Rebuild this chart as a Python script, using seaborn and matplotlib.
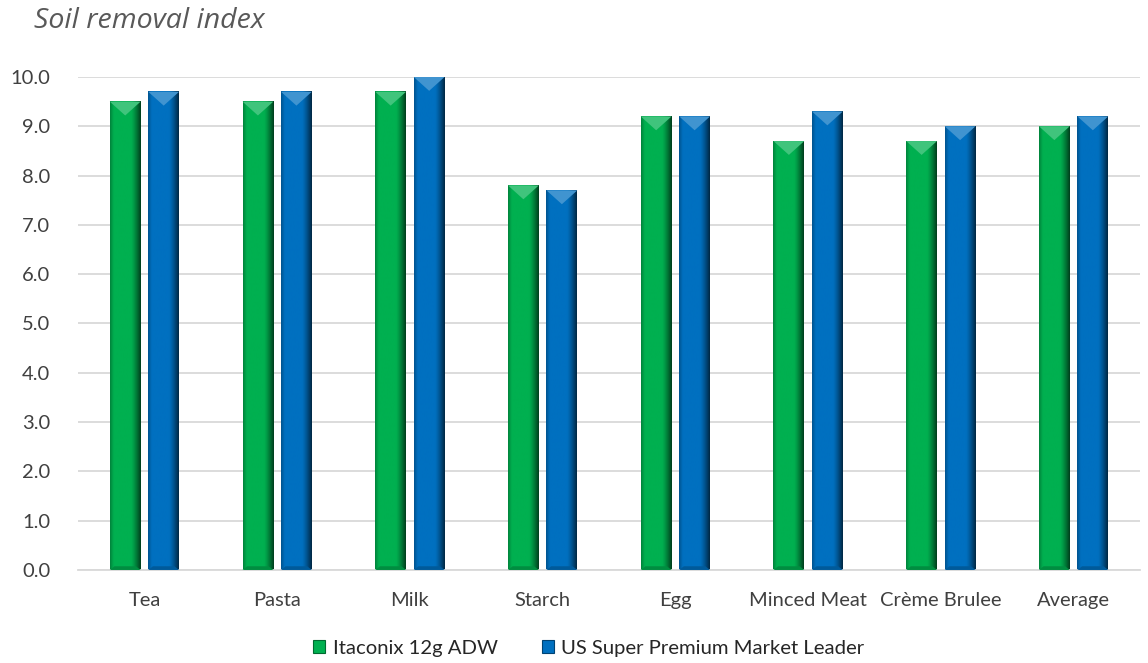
import numpy as np
import pandas as pd
import matplotlib
matplotlib.use("Agg")
import matplotlib.pyplot as plt
import matplotlib.colors as mcolors
from matplotlib.patches import Polygon, Patch
import seaborn as sns

categories = ["Tea", "Pasta", "Milk", "Starch", "Egg", "Minced Meat", "Crème Brulee", "Average"]
itaconix = [9.5, 9.5, 9.7, 7.8, 9.2, 8.7, 8.7, 9.0]
us_leader = [9.7, 9.7, 10.0, 7.7, 9.2, 9.3, 9.0, 9.2]
series_names = ["Itaconix 12g ADW", "US Super Premium Market Leader"]
y_ticks = [0, 1, 2, 3, 4, 5, 6, 7, 8, 9, 10]

df = pd.DataFrame({
    "category": categories * 2,
    "value": itaconix + us_leader,
    "series": [series_names[0]] * len(categories) + [series_names[1]] * len(categories),
})

colors = {series_names[0]: "#00B050", series_names[1]: "#0070C0"}

sns.set_theme(style="white")
plt.rcParams["font.family"] = ["Lato", "DejaVu Sans"]

fig = plt.figure(figsize=(11.48, 6.63), dpi=100)
ax = fig.add_axes([0.068, 0.1403, 0.925, 0.7436])

sns.barplot(data=df, x="category", y="value", hue="series", palette=colors,
            width=0.58, gap=0.2, ax=ax, legend=False, saturation=1)

ax.set_ylim(0, 10)
ax.set_xlim(-0.5, len(categories) - 0.5)
ax.set_yticks(y_ticks)
ax.set_yticklabels([f"{t:.1f}" for t in y_ticks], fontsize=14.5, color="#404040")
ax.tick_params(axis="x", labelsize=14.5, labelcolor="#404040", length=0, pad=16)
ax.tick_params(axis="y", length=0, pad=20)
ax.set_xlabel("")
ax.set_ylabel("")
ax.yaxis.grid(True, color="#D9D9D9", linewidth=1.3)
ax.set_axisbelow(True)
for side in ["top", "right", "left"]:
    ax.spines[side].set_visible(False)
ax.spines["bottom"].set_color("#D9D9D9")
ax.spines["bottom"].set_linewidth(1.3)


def shade(base, f):
    """Blend a colour towards black (f<0) or white (f>0)."""
    c = np.array(mcolors.to_rgb(base))
    if f < 0:
        return tuple(c * (1 + f))
    return tuple(c + (1 - c) * f)


fig.canvas.draw()
px_per_y = ax.transData.transform((0, 1))[1] - ax.transData.transform((0, 0))[1]
px_per_x = ax.transData.transform((1, 0))[0] - ax.transData.transform((0, 0))[0]

# bevelled look on each bar: horizontal shading plus a bright top facet
for bar in list(ax.patches):
    x0, w, h = bar.get_x(), bar.get_width(), bar.get_height()
    if h <= 0:
        continue
    base = bar.get_facecolor()[:3]
    bar.set_visible(False)
    n = 64
    t = np.linspace(0, 1, n)
    prof = np.where(t < 0.12, -0.25 + (t / 0.12) * 0.25, 0.0)
    prof = np.where(t > 0.68, -((t - 0.68) / 0.32) ** 1.3 * 0.65, prof)
    row = np.array([shade(base, f) for f in prof])[None, :, :]
    ax.imshow(row, extent=(x0, x0 + w, 0, h), aspect="auto",
              interpolation="bilinear", zorder=2)
    depth = (w * px_per_x * 0.45) / px_per_y
    tri = Polygon([(x0, h), (x0 + w, h), (x0 + w / 2, h - depth)], closed=True,
                  facecolor=shade(base, 0.25), edgecolor="none", zorder=3)
    ax.add_patch(tri)
    bdepth = (w * px_per_x * 0.12) / px_per_y
    bot = Polygon([(x0, 0), (x0 + w, 0), (x0 + w * 0.85, bdepth), (x0 + w * 0.15, bdepth)],
                  closed=True, facecolor=shade(base, -0.2), edgecolor="none", zorder=3)
    ax.add_patch(bot)

ax.set_xlim(-0.5, len(categories) - 0.5)
ax.set_ylim(0, 10)

fig.text(0.03, 0.968, "Soil removal index", fontsize=20.5, style="italic",
         color="#595959", family=["Open Sans", "DejaVu Sans"], va="center")

handles = [Patch(facecolor=colors[s], edgecolor=shade(colors[s], -0.4), linewidth=0.8)
           for s in series_names]
fig.legend(handles, series_names, loc="center", bbox_to_anchor=(0.513, 0.022),
           ncol=2, frameon=False, fontsize=14.6, handlelength=0.6, handleheight=0.6,
           handletextpad=0.35, columnspacing=2.2, labelcolor="#262626")

fig.savefig("out.png", dpi=100)
